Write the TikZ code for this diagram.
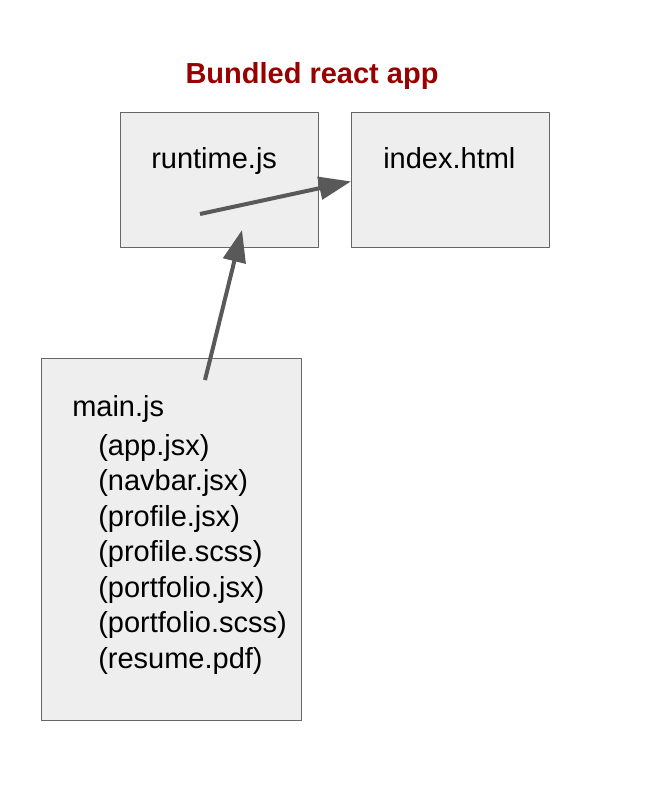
\documentclass[tikz,border=0pt]{standalone}
\usepackage{fontspec}
\setmainfont{Liberation Sans}
\usepackage{xcolor}
\usetikzlibrary{arrows.meta}
\definecolor{boxfill}{HTML}{EEEEEE}
\definecolor{boxline}{HTML}{666666}
\definecolor{arrowgray}{HTML}{595959}
\definecolor{titlered}{HTML}{990000}

\begin{document}
\begin{tikzpicture}[x=0.75pt,y=-0.75pt,line join=bevel,
  filebox/.style={rectangle,draw=boxline,fill=boxfill,line width=0.9pt,inner sep=0pt,anchor=north west},
  filename/.style={anchor=base west,inner sep=0pt,font=\fontsize{21.75}{26}\selectfont},
  flow/.style={draw=arrowgray,line width=3pt,-{Triangle[length=24pt,width=17pt]}}]
            \useasboundingbox (0,0) rectangle (650,804);
            %
            \node[inner sep=0pt,anchor=base,text=titlered,font=\bfseries\fontsize{21.75}{26}\selectfont] (title) at (312,83) {Bundled react app};
            \node[filebox,minimum width=148.5pt,minimum height=101.25pt] (runtime) at (120,112) {};
            \node[filebox,minimum width=148.5pt,minimum height=101.25pt] (index) at (351,112) {};
            \node[filebox,minimum width=195pt,minimum height=271.5pt] (main) at (41,358) {};
            %
            \node[filename] (runtimetext) at (151,168) {runtime.js};
            \node[filename] (indextext) at (383,168) {index.html};
            \node[filename] (maintext) at (72,416) {main.js};
            \foreach \f [count=\i] in {{(app.jsx)},{(navbar.jsx)},{(profile.jsx)},{(profile.scss)},{(portfolio.jsx)},{(portfolio.scss)},{(resume.pdf)}}
                \node[filename] (file\i) at (98,{455+35.5*(\i-1)}) {\f};
            %
            \coordinate (runtimeout) at (200,214);
            \coordinate (runtimein) at (242,230);
            \coordinate (mainout) at (205,380);
            \draw [flow] (runtimeout) to ([yshift=-1pt]index.west);
            \draw [flow] (mainout) to (runtimein);
            %
\end{tikzpicture}
\end{document}
